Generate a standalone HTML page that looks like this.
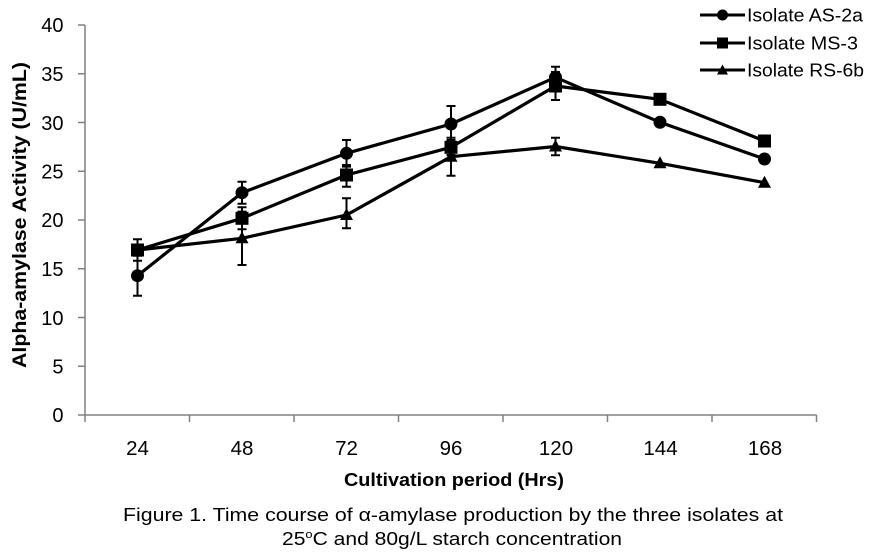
<!DOCTYPE html>
<html><head><meta charset="utf-8"><style>
html,body{margin:0;padding:0;background:#fff;}
svg{display:block;}
text{font-family:"Liberation Sans",Arial,sans-serif;fill:#000;}
</style></head><body>
<svg width="875" height="554" viewBox="0 0 875 554" xmlns="http://www.w3.org/2000/svg">
<!-- axes -->
<g stroke="#808080" stroke-width="1.5" fill="none">
<line x1="85" y1="25" x2="85" y2="415"/>
<line x1="85" y1="415" x2="816.5" y2="415"/>
<line x1="78" y1="25" x2="85" y2="25"/>
<line x1="78" y1="73.75" x2="85" y2="73.75"/>
<line x1="78" y1="122.5" x2="85" y2="122.5"/>
<line x1="78" y1="171.25" x2="85" y2="171.25"/>
<line x1="78" y1="220" x2="85" y2="220"/>
<line x1="78" y1="268.75" x2="85" y2="268.75"/>
<line x1="78" y1="317.5" x2="85" y2="317.5"/>
<line x1="78" y1="366.25" x2="85" y2="366.25"/>
<line x1="78" y1="415" x2="85" y2="415"/>
<line x1="85" y1="415" x2="85" y2="422"/>
<line x1="189.5" y1="415" x2="189.5" y2="422"/>
<line x1="294" y1="415" x2="294" y2="422"/>
<line x1="398.5" y1="415" x2="398.5" y2="422"/>
<line x1="503" y1="415" x2="503" y2="422"/>
<line x1="607.5" y1="415" x2="607.5" y2="422"/>
<line x1="712" y1="415" x2="712" y2="422"/>
<line x1="816.5" y1="415" x2="816.5" y2="422"/>
</g>
<!-- y tick labels -->
<g font-size="20" text-anchor="end">
<text x="63.5" y="32">40</text>
<text x="63.5" y="81">35</text>
<text x="63.5" y="130">30</text>
<text x="63.5" y="178.5">25</text>
<text x="63.5" y="227">20</text>
<text x="63.5" y="276">15</text>
<text x="63.5" y="325">10</text>
<text x="63.5" y="373.5">5</text>
<text x="63.5" y="422">0</text>
</g>
<!-- x tick labels -->
<g font-size="20.5" text-anchor="middle">
<text x="137.5" y="455">24</text>
<text x="242" y="455">48</text>
<text x="346.5" y="455">72</text>
<text x="451" y="455">96</text>
<text x="556" y="455">120</text>
<text x="660.5" y="455">144</text>
<text x="765" y="455">168</text>
</g>
<!-- axis titles -->
<text x="454" y="486" font-size="18.5" font-weight="bold" text-anchor="middle" textLength="220" lengthAdjust="spacingAndGlyphs">Cultivation period (Hrs)</text>
<text transform="translate(26,215) rotate(-90)" font-size="19" font-weight="bold" text-anchor="middle" textLength="306" lengthAdjust="spacingAndGlyphs">Alpha-amylase Activity (U/mL)</text>
<!-- caption -->
<text x="453" y="521" font-size="18" text-anchor="middle" textLength="660" lengthAdjust="spacingAndGlyphs">Figure 1. Time course of α-amylase production by the three isolates at</text>
<text x="452" y="545" font-size="18" text-anchor="middle" textLength="340" lengthAdjust="spacingAndGlyphs">25<tspan font-size="11" dy="-7">o</tspan><tspan dy="7">C and 80g/L starch concentration</tspan></text>

<!-- error bars -->
<g stroke="#000" stroke-width="2" fill="none">
<path d="M137.5 255.7V295.7M133 255.7h9M133 295.7h9"/>
<path d="M242 181.7V203.7M237.5 181.7h9M237.5 203.7h9"/>
<path d="M346.5 140V166.6M342 140h9M342 166.6h9"/>
<path d="M451 106V142M446.5 106h9M446.5 142h9"/>
<path d="M555.5 66.7V88M551 66.7h9M551 88h9"/>
<path d="M137.5 239.3V260.7M133 239.3h9M133 260.7h9"/>
<path d="M242 207.3V229.3M237.5 207.3h9M237.5 229.3h9"/>
<path d="M346.5 165V186.7M342 165h9M342 186.7h9"/>
<path d="M451 140V155M446.5 140h9M446.5 155h9"/>
<path d="M555.5 72V100M551 72h9M551 100h9"/>
<path d="M242 211.6V265M237.5 211.6h9M237.5 265h9"/>
<path d="M346.5 198.3V228.3M342 198.3h9M342 228.3h9"/>
<path d="M451 137.7V175.7M446.5 137.7h9M446.5 175.7h9"/>
<path d="M555.5 137.7V155.3M551 137.7h9M551 155.3h9"/>
</g>

<!-- series lines -->
<g stroke="#000" stroke-width="3.2" fill="none" stroke-linejoin="round">
<polyline points="137.5,275.7 242,192.7 346.5,153.3 451,124 555.5,77.3 660,122.3 764.5,159"/>
<polyline points="137.5,250 242,218.3 346.5,175 451,147.3 555.5,86 660,99.3 764.5,141"/>
<polyline points="137.5,250 242,238.3 346.5,215 451,156.7 555.5,146.5 660,163.3 764.5,182.7"/>
</g>

<!-- markers -->
<g fill="#000">
<circle cx="137.5" cy="275.7" r="6.5"/>
<circle cx="242" cy="192.7" r="6.5"/>
<circle cx="346.5" cy="153.3" r="6.5"/>
<circle cx="451" cy="124" r="6.5"/>
<circle cx="555.5" cy="77.3" r="6.5"/>
<circle cx="660" cy="122.3" r="6.5"/>
<circle cx="764.5" cy="159" r="6.5"/>
<rect x="131" y="243.5" width="13" height="13"/>
<rect x="235.5" y="211.8" width="13" height="13"/>
<rect x="340" y="168.5" width="13" height="13"/>
<rect x="444.5" y="140.8" width="13" height="13"/>
<rect x="549" y="79.5" width="13" height="13"/>
<rect x="653.5" y="92.8" width="13" height="13"/>
<rect x="758" y="134.5" width="13" height="13"/>
<polygon points="137.5,243 144,255 131,255"/>
<polygon points="242,231.3 248.5,243.3 235.5,243.3"/>
<polygon points="346.5,208 353,220 340,220"/>
<polygon points="451,149.7 457.5,161.7 444.5,161.7"/>
<polygon points="555.5,139.5 562,151.5 549,151.5"/>
<polygon points="660,156.3 666.5,168.3 653.5,168.3"/>
<polygon points="764.5,175.7 771,187.7 758,187.7"/>
</g>

<!-- legend -->
<g stroke="#000" stroke-width="3">
<line x1="700" y1="15" x2="745" y2="15"/>
<line x1="700" y1="43" x2="745" y2="43"/>
<line x1="700" y1="70" x2="745" y2="70"/>
</g>
<g fill="#000">
<circle cx="722.5" cy="15" r="5.5"/>
<rect x="717" y="37.5" width="11" height="11"/>
<polygon points="722.5,64.5 728,74.5 717,74.5"/>
</g>
<g font-size="18">
<text x="747" y="21.5" textLength="116" lengthAdjust="spacingAndGlyphs">Isolate AS-2a</text>
<text x="747" y="49.5" textLength="111" lengthAdjust="spacingAndGlyphs">Isolate MS-3</text>
<text x="747" y="76.5" textLength="117" lengthAdjust="spacingAndGlyphs">Isolate RS-6b</text>
</g>
</svg>
</body></html>
